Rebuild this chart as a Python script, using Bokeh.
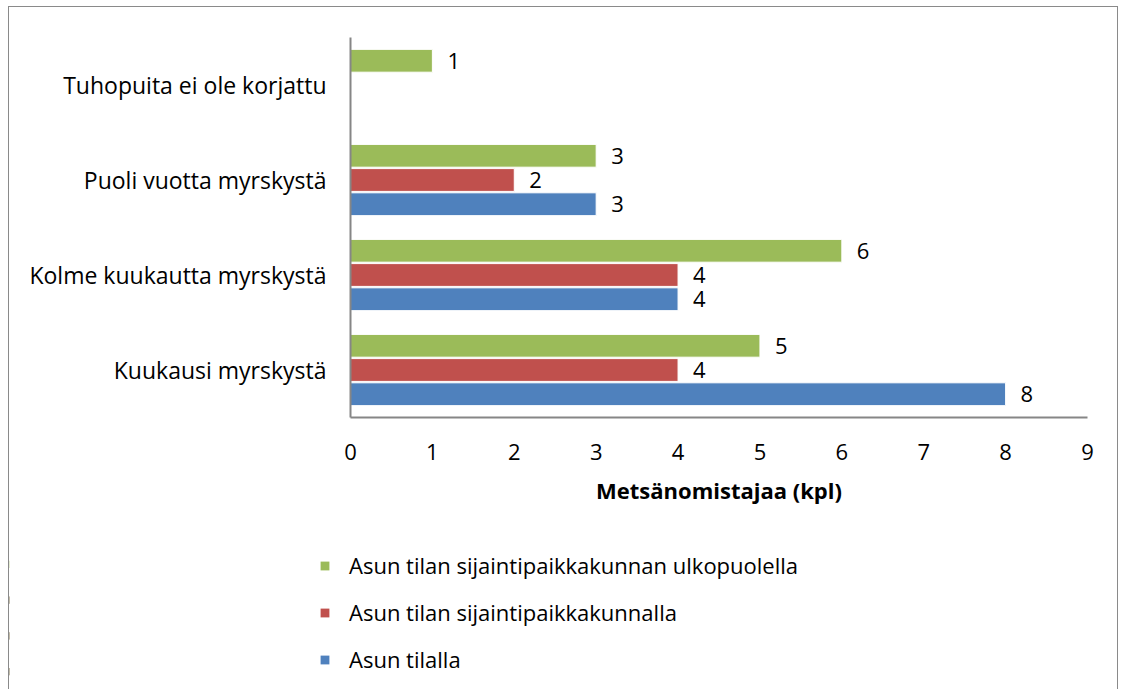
from bokeh.plotting import figure
from bokeh.models import (FactorRange, ColumnDataSource, LabelSet, Legend, LegendItem,
                          FixedTicker)
from bokeh.core.properties import value
from bokeh.transform import dodge
from bokeh.embed import file_html
from bokeh.resources import INLINE

categories = ["Kuukausi myrskystä", "Kolme kuukautta myrskystä",
              "Puoli vuotta myrskystä", "Tuhopuita ei ole korjattu"]
series_names = ["Asun tilalla", "Asun tilan sijaintipaikkakunnalla",
                "Asun tilan sijaintipaikkakunnan ulkopuolella"]
asun_tilalla = [8, 4, 3, None]
paikkakunnalla = [4, 4, 2, None]
ulkopuolella = [5, 6, 3, 1]
x_ticks = [0, 1, 2, 3, 4, 5, 6, 7, 8, 9]
x_title = "Metsänomistajaa (kpl)"

colors = ["#4F81BD", "#C0504D", "#9BBB59"]
offsets = [-0.255, 0.0, 0.255]
FONT = "Open Sans"
FS = "22px"
W = 1110
BORDER = "1px solid #8a8a8a"

p = figure(width=W, height=540, y_range=FactorRange(*categories, range_padding=0),
           x_range=(0, 9), output_backend="svg", toolbar_location=None,
           min_border_left=341, min_border_top=30, min_border_right=32,
           min_border_bottom=130)
p.styles = {"border-left": BORDER, "border-right": BORDER, "border-top": BORDER,
            "margin-left": "8px", "margin-top": "6px"}
p.outline_line_color = None
p.grid.visible = False
p.background_fill_color = "white"
p.border_fill_color = "white"

sources = []
for name, vals, col, off in zip(series_names, [asun_tilalla, paikkakunnalla, ulkopuolella],
                                colors, offsets):
    cats = [c for c, v in zip(categories, vals) if v is not None]
    vs = [v for v in vals if v is not None]
    src = ColumnDataSource(dict(cat=cats, val=vs, lab=[str(v) for v in vs]))
    sources.append(src)
    p.hbar(y=dodge("cat", off, range=p.y_range), right="val", left=0, height=0.24,
           source=src, fill_color=col, line_color="white", line_width=1)
    labels = LabelSet(x="val", y=dodge("cat", off, range=p.y_range), text="lab", source=src,
                      x_offset=15, text_baseline="middle", text_align="left",
                      text_font=value(FONT), text_font_size=value(FS), text_color="black")
    p.add_layout(labels)

p.xaxis.ticker = FixedTicker(ticks=x_ticks)
p.xaxis.axis_label = x_title
p.xaxis.axis_label_text_font = FONT
p.xaxis.axis_label_text_font_style = "bold"
p.xaxis.axis_label_text_font_size = FS
p.xaxis.axis_label_text_color = "black"
p.xaxis.axis_label_standoff = 12
p.xaxis.major_label_standoff = 26

for ax in (p.xaxis, p.yaxis):
    ax.axis_line_color = "#868686"
    ax.axis_line_width = 2
    ax.major_tick_line_color = None
    ax.minor_tick_line_color = None
    ax.major_tick_out = 0
    ax.major_tick_in = 0
    ax.major_label_text_font = FONT
    ax.major_label_text_font_size = FS
    ax.major_label_text_color = "black"
p.yaxis.major_label_text_font_size = "23px"
p.yaxis.major_label_standoff = 24
p.yaxis.group_text_font_size = "0px"

# legend panel (bars in it fall outside its x range, only the legend shows)
p2 = figure(width=W, height=143, x_range=(100, 101), y_range=FactorRange(*categories),
            output_backend="svg", toolbar_location=None, min_border=0)
p2.styles = {"border-left": BORDER, "border-right": BORDER, "margin-left": "8px"}
p2.axis.visible = False
p2.grid.visible = False
p2.outline_line_color = None
p2.border_fill_color = "white"
dummies = []
for src, col in zip(sources, colors):
    dummies.append(p2.hbar(y="cat", right="val", left=0, height=0.2, source=src,
                           fill_color=col, line_color=None))
items = [LegendItem(label=series_names[i], renderers=[dummies[i]]) for i in (2, 1, 0)]
legend = Legend(items=items, location=(310, 15), padding=0, margin=0,
                border_line_color=None, background_fill_alpha=0,
                glyph_width=11, glyph_height=11, label_height=20, spacing=17,
                label_standoff=19, label_text_font=FONT, label_text_font_size=FS,
                label_text_color="black")
p2.add_layout(legend, "center")

open("out.html", "w").write(file_html([p, p2], INLINE))
